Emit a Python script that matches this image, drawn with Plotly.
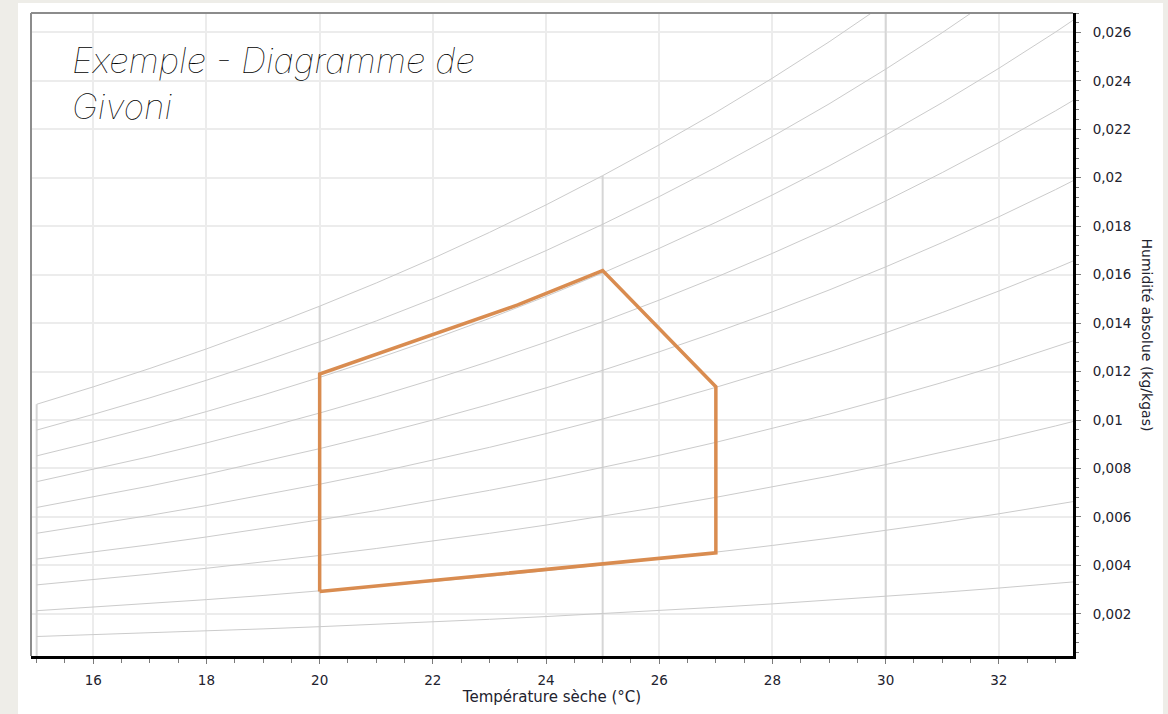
import plotly.graph_objects as go

# Dry-bulb temperatures (°C) at which the humidity curves are sampled
TEMPS = [15, 16, 17, 18, 19, 20, 21, 22, 23, 24, 25, 26, 27, 28, 29, 30, 31, 32, 33, 34]

# Absolute humidity (kg/kg dry air) along each relative-humidity curve
RH100 = [0.010650, 0.011369, 0.012129, 0.012936, 0.013791, 0.014699, 0.015656, 0.016670, 0.017744, 0.018880,
         0.020087, 0.021359, 0.022698, 0.024114, 0.025608, 0.027201, 0.028876, 0.030646, 0.032514, 0.034487]
RH90 = [0.009585, 0.010232, 0.010916, 0.011642, 0.012412, 0.013229, 0.014090, 0.015003, 0.015970, 0.016992,
        0.018078, 0.019223, 0.020428, 0.021703, 0.023047, 0.024481, 0.025988, 0.027581, 0.029263, 0.031038]
RH80 = [0.008520, 0.009095, 0.009703, 0.010349, 0.011033, 0.011759, 0.012525, 0.013336, 0.014195, 0.015104,
        0.016070, 0.017087, 0.018158, 0.019291, 0.020486, 0.021761, 0.023101, 0.024517, 0.026011, 0.027590]
RH70 = [0.007455, 0.007958, 0.008490, 0.009055, 0.009654, 0.010289, 0.010959, 0.011669, 0.012421, 0.013216,
        0.014061, 0.014951, 0.015889, 0.016880, 0.017926, 0.019041, 0.020213, 0.021452, 0.022760, 0.024141]
RH60 = [0.006390, 0.006821, 0.007277, 0.007762, 0.008275, 0.008819, 0.009394, 0.010002, 0.010646, 0.011328,
        0.012052, 0.012815, 0.013619, 0.014468, 0.015365, 0.016321, 0.017326, 0.018388, 0.019508, 0.020692]
RH50 = [0.005325, 0.005685, 0.006065, 0.006468, 0.006896, 0.007350, 0.007828, 0.008335, 0.008872, 0.009440,
        0.010044, 0.010680, 0.011349, 0.012057, 0.012804, 0.013601, 0.014438, 0.015323, 0.016257, 0.017244]
RH40 = [0.004260, 0.004548, 0.004852, 0.005174, 0.005516, 0.005880, 0.006262, 0.006668, 0.007098, 0.007552,
        0.008035, 0.008544, 0.009079, 0.009646, 0.010243, 0.010880, 0.011550, 0.012258, 0.013006, 0.013795]
RH30 = [0.003195, 0.003411, 0.003639, 0.003881, 0.004137, 0.004410, 0.004697, 0.005001, 0.005323, 0.005664,
        0.006026, 0.006408, 0.006809, 0.007234, 0.007682, 0.008160, 0.008663, 0.009194, 0.009754, 0.010346]
RH20 = [0.002130, 0.002274, 0.002426, 0.002587, 0.002758, 0.002940, 0.003131, 0.003334, 0.003549, 0.003776,
        0.004017, 0.004272, 0.004540, 0.004823, 0.005122, 0.005440, 0.005775, 0.006129, 0.006503, 0.006897]
RH10 = [0.001065, 0.001137, 0.001213, 0.001294, 0.001379, 0.001470, 0.001566, 0.001667, 0.001774, 0.001888,
        0.002009, 0.002136, 0.002270, 0.002411, 0.002561, 0.002720, 0.002888, 0.003065, 0.003251, 0.003449]
RH_CURVES = [RH100, RH90, RH80, RH70, RH60, RH50, RH40, RH30, RH20, RH10]

# Constant dry-bulb lines (from 0 up to saturation)
ISO_T = [15, 20, 25, 30]
ISO_WSAT = [0.010650, 0.014699, 0.020087, 0.027201]

# Givoni comfort zone outline
GIVONI_T = [20, 20, 23.5, 25, 27, 27, 20]
GIVONI_W = [0.00292, 0.01190, 0.01475, 0.01617, 0.01137, 0.00452, 0.00292]

# Axis ticks
X_TICKS = [16, 18, 20, 22, 24, 26, 28, 30, 32]
Y_TICKS = [0.002, 0.004, 0.006, 0.008, 0.010, 0.012, 0.014, 0.016, 0.018, 0.020, 0.022, 0.024, 0.026]
Y_TICK_LABELS = ["0,002", "0,004", "0,006", "0,008", "0,01", "0,012", "0,014", "0,016", "0,018", "0,02",
                 "0,022", "0,024", "0,026"]

BEIGE = "#eeede8"
CURVE = "#cbcbcb"
ORANGE = "#d98c50"
TICKFONT = dict(family="DejaVu Sans", size=13.5, color="#22222e")

fig = go.Figure()

for t, w in zip(ISO_T, ISO_WSAT):
    fig.add_trace(go.Scatter(x=[t, t], y=[0, w], mode="lines",
                             line=dict(color="#d6d6d6", width=2),
                             hoverinfo="skip", showlegend=False))

for curve in RH_CURVES:
    fig.add_trace(go.Scatter(x=TEMPS, y=curve, mode="lines",
                             line=dict(color=CURVE, width=1),
                             hoverinfo="skip", showlegend=False))

fig.add_trace(go.Scatter(x=GIVONI_T, y=GIVONI_W, mode="lines",
                         line=dict(color=ORANGE, width=3.5),
                         hoverinfo="skip", showlegend=False))

fig.update_layout(
    width=1168, height=714,
    margin=dict(l=31, r=95, t=13, b=58),
    paper_bgcolor=BEIGE,
    plot_bgcolor="white",
    showlegend=False,
    xaxis=dict(
        range=[14.9, 33.31],
        tickvals=X_TICKS,
        ticks="outside", ticklen=5, tickwidth=1, tickcolor="#7a7a7a",
        minor=dict(dtick=0.5, tick0=15, ticks="outside", ticklen=4, tickwidth=1,
                   tickcolor="#7a7a7a", showgrid=False),
        showgrid=True, gridcolor="#ececec", gridwidth=2,
        showline=True, linecolor="black", linewidth=3,
        zeroline=False,
        tickfont=TICKFONT,
        ticklabelstandoff=5,
        title=dict(text="Température sèche (°C)",
                   font=dict(family="DejaVu Sans", size=15, color="#22222e"),
                   standoff=4),
    ),
    yaxis=dict(
        side="right",
        range=[0.00026, 0.0268],
        tickvals=Y_TICKS, ticktext=Y_TICK_LABELS,
        ticks="outside", ticklen=5, tickwidth=1, tickcolor="#7a7a7a",
        minor=dict(dtick=0.0004, tick0=0, ticks="outside", ticklen=3, tickwidth=1,
                   tickcolor="#7a7a7a", showgrid=False),
        showgrid=True, gridcolor="#ececec", gridwidth=2,
        showline=True, linecolor="black", linewidth=3,
        zeroline=False,
        tickfont=TICKFONT,
        ticklabelstandoff=9,
    ),
    shapes=[
        dict(type="rect", xref="paper", yref="paper", x0=-0.0125, x1=1.0864, y0=-0.095, y1=1.0156,
             fillcolor="white", line=dict(width=0), layer="below"),
        dict(type="line", xref="paper", yref="paper", x0=0, x1=0, y0=0, y1=1,
             line=dict(color="#8c8c8c", width=2)),
        dict(type="line", xref="paper", yref="paper", x0=0, x1=1, y0=1, y1=1,
             line=dict(color="#8c8c8c", width=2)),
    ],
    annotations=[
        dict(text="Exemple - Diagramme de<br>Givoni", xref="paper", yref="paper",
             x=0.0375, y=0.963, xanchor="left", yanchor="top", align="left", showarrow=False,
             font=dict(family="Inter", size=35, color="black", weight=100, style="italic")),
        dict(text="Humidité absolue (kg/kgas)", xref="paper", yref="paper",
             x=1.0, xshift=74, y=0.5, xanchor="center", yanchor="middle", textangle=90,
             showarrow=False, font=dict(family="DejaVu Sans", size=14, color="#22222e")),
    ],
)

fig.write_html("out.html", config={"displayModeBar": False},
               post_script="document.body.style.margin='0';")
